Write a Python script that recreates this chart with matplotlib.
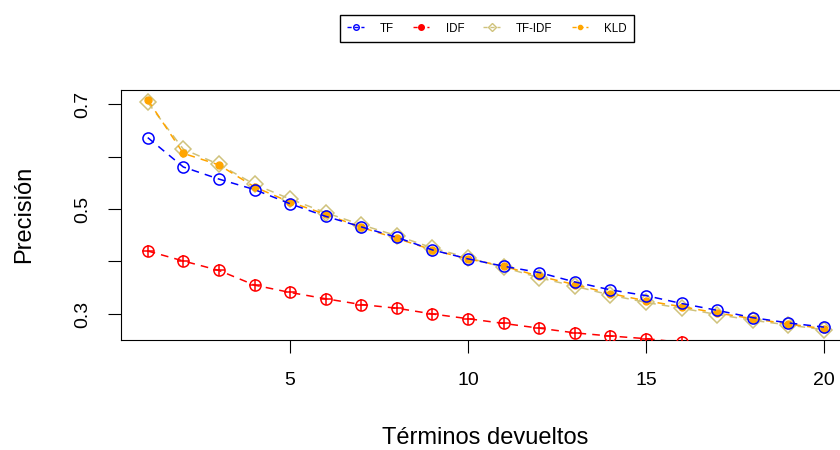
import matplotlib
matplotlib.use('Agg')
import matplotlib.pyplot as plt
from matplotlib.lines import Line2D

plt.rcParams['font.family'] = ['Liberation Sans', 'DejaVu Sans']

# ---- data ----
terms = list(range(1, 21))
tf = [0.636, 0.580, 0.557, 0.537, 0.510, 0.486, 0.466, 0.446, 0.422, 0.405,
      0.391, 0.379, 0.361, 0.346, 0.335, 0.320, 0.307, 0.293, 0.283, 0.275]
idf_terms = list(range(1, 17))
idf = [0.420, 0.401, 0.383, 0.355, 0.341, 0.329, 0.318, 0.311, 0.300, 0.291,
       0.282, 0.273, 0.264, 0.258, 0.253, 0.246]
tfidf = [0.703, 0.614, 0.585, 0.547, 0.519, 0.493, 0.470, 0.449, 0.426, 0.407,
         0.389, 0.369, 0.353, 0.336, 0.322, 0.311, 0.299, 0.288, 0.279, 0.270]
kld = [0.708, 0.606, 0.584, 0.542, 0.513, 0.490, 0.465, 0.444, 0.422, 0.405,
       0.391, 0.372, 0.356, 0.339, 0.325, 0.314, 0.302, 0.291, 0.281, 0.272]
series_names = ['TF', 'IDF', 'TF-IDF', 'KLD']
xticks = [5, 10, 15, 20]
yticks = [0.3, 0.4, 0.5, 0.6, 0.7]
ytick_labels = ['0.3', '', '0.5', '', '0.7']

c_tf = '#0000FF'
c_idf = '#FF0000'
c_tfidf = '#CFC27C'
c_kld = '#FFA500'

W, H = 840, 450
fig = plt.figure(figsize=(W / 100, H / 100), dpi=100)
left, right, top, bottom = 120.7, 851.0, 90.0, 339.5
ax = fig.add_axes([left / W, 1 - bottom / H, (right - left) / W, (bottom - top) / H])

lw = 1.1
dash = (5, 4)
ax.plot(terms, tfidf, color=c_tfidf, lw=lw, dashes=dash, marker='D', ms=8,
        mfc='none', mec=c_tfidf, mew=1.1, zorder=2)
ax.plot(terms, kld, color=c_kld, lw=lw, dashes=dash, marker='o', ms=5,
        mfc=c_kld, mec=c_kld, zorder=3)
ax.plot(idf_terms, idf, color=c_idf, lw=lw, dashes=dash, marker='o', ms=8,
        mfc='none', mec=c_idf, mew=1.1, zorder=4)
ax.plot(idf_terms, idf, color=c_idf, ls='none', marker='+', ms=8, mew=1.1,
        zorder=4)
ax.plot(terms, tf, color=c_tf, lw=lw, dashes=dash, marker='o', ms=8,
        mfc='none', mec=c_tf, mew=1.1, zorder=5)

ax.set_xlim(0.24, 20.76)
ax.set_ylim(0.2514, 0.7267)
ax.set_xticks(xticks)
ax.set_xticklabels([str(t) for t in xticks])
ax.set_yticks(yticks)
ax.set_yticklabels(ytick_labels)
for s in ax.spines.values():
    s.set_linewidth(0.8)
    s.set_color('black')
ax.tick_params(axis='both', length=9.5, width=0.8, labelsize=14, colors='black')
ax.tick_params(axis='x', pad=14)
ax.tick_params(axis='y', pad=11.5)
for lab in ax.get_yticklabels():
    lab.set_rotation(90)
    lab.set_va('center')

ax.set_xlabel('Términos devueltos', fontsize=17, va='baseline')
ax.xaxis.set_label_coords(0.4988, -(444.0 - bottom) / (bottom - top))
ax.set_ylabel('Precisión', fontsize=17, va='baseline')
ax.yaxis.set_label_coords((30 - left) / (right - left), 0.5)

handles = [
    Line2D([], [], color=c_tf, lw=1, dashes=(3, 2), marker='o', ms=4, mfc='none', mec=c_tf, mew=1),
    Line2D([], [], color=c_idf, lw=1, dashes=(3, 2), marker='o', ms=4, mfc=c_idf, mec=c_idf),
    Line2D([], [], color=c_tfidf, lw=1, dashes=(3, 2), marker='D', ms=4, mfc='none', mec=c_tfidf, mew=1),
    Line2D([], [], color=c_kld, lw=1, dashes=(3, 2), marker='o', ms=3, mfc=c_kld, mec=c_kld),
]
leg = fig.legend(handles, series_names, loc='center',
                 bbox_to_anchor=(487 / W, 1 - 28.5 / H), ncol=4,
                 frameon=True, fancybox=False, fontsize=8.3,
                 handlelength=1.4, handletextpad=1.4, columnspacing=1.68,
                 borderpad=0.69, framealpha=1, edgecolor='black')
leg.get_frame().set_linewidth(1.0)

fig.savefig('out.png', dpi=100)
